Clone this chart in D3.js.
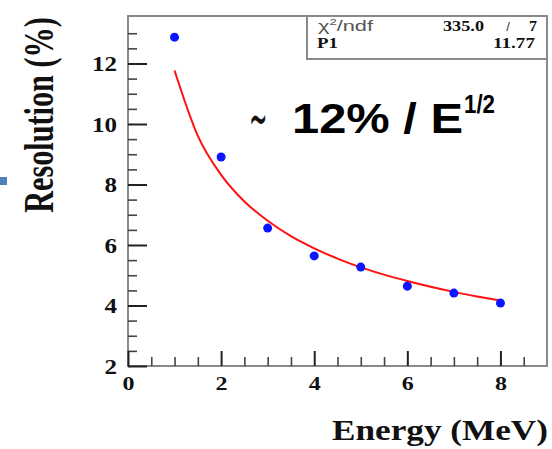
<!DOCTYPE html>
<html>
<head>
<meta charset="utf-8">
<script src="https://cdn.jsdelivr.net/npm/d3@7"></script>
<style>
  body { margin: 0; background: #fff; }
  svg { display: block; }
</style>
</head>
<body>
<div id="chart"></div>
<script>
// measured points (energy in MeV, resolution in %)
const energies = [1, 2, 3, 4, 5, 6, 7, 8];
const resolutions = [12.87, 8.91, 6.56, 5.64, 5.27, 4.64, 4.41, 4.08];

// fit curve
const fitEnergies = [1, 1.5, 2, 2.5, 3, 3.5, 4, 4.5, 5, 5.5, 6, 6.5, 7, 7.5, 8];
const fitValues = [11.77, 9.61, 8.32, 7.44, 6.80, 6.29, 5.89, 5.55, 5.26, 5.02, 4.81, 4.62, 4.45, 4.30, 4.16];

// axis ticks
const xMajorTicks = [0, 2, 4, 6, 8];
const xMinorTicks = [0.5, 1, 1.5, 2.5, 3, 3.5, 4.5, 5, 5.5, 6.5, 7, 7.5, 8.5];
const yMajorTicks = [2, 4, 6, 8, 10, 12];
const yMinorTicks = [2.5, 3, 3.5, 4.5, 5, 5.5, 6.5, 7, 7.5, 8.5, 9, 9.5, 10.5, 11, 11.5, 12.5, 13];

const width = 552, height = 449;
const plot = { left: 128, right: 547, top: 16, bottom: 366 };

const svg = d3.select('#chart').append('svg')
  .attr('width', width).attr('height', height);

const x = d3.scaleLinear().domain([0, 9]).range([plot.left, plot.right]);
const y = d3.scaleLinear().domain([2, 13.57]).range([plot.bottom, plot.top]);

const serif = '"Liberation Serif", "Times New Roman", serif';
const sans = '"Liberation Sans", Arial, sans-serif';

// little blue mark on the left edge
svg.append('rect').attr('x', 0).attr('y', 177).attr('width', 7).attr('height', 8)
  .attr('fill', '#4f81bd');

// frame
svg.append('rect')
  .attr('x', plot.left).attr('y', plot.top)
  .attr('width', plot.right - plot.left).attr('height', plot.bottom - plot.top)
  .attr('fill', 'none').attr('stroke', '#8a8a8a').attr('stroke-width', 2);

// minor ticks
svg.append('g').attr('transform', `translate(${plot.left},0)`)
  .call(d3.axisLeft(y).tickValues(yMinorTicks).tickSize(-9).tickFormat(''))
  .call(g => g.select('.domain').remove())
  .call(g => g.selectAll('line').attr('stroke', '#444').attr('stroke-width', 1.6));
svg.append('g').attr('transform', `translate(0,${plot.bottom})`)
  .call(d3.axisBottom(x).tickValues(xMinorTicks).tickSize(-9).tickFormat(''))
  .call(g => g.select('.domain').remove())
  .call(g => g.selectAll('line').attr('stroke', '#444').attr('stroke-width', 1.6));

// major ticks + labels
const yAxis = svg.append('g').attr('transform', `translate(${plot.left},0)`)
  .call(d3.axisLeft(y).tickValues(yMajorTicks).tickSize(-19).tickPadding(11).tickFormat(d3.format('d')));
yAxis.select('.domain').remove();
yAxis.selectAll('line').attr('stroke', '#222').attr('stroke-width', 2);
yAxis.selectAll('text')
  .attr('font-family', serif).attr('font-weight', 'bold').attr('font-size', 20)
  .attr('fill', '#111').attr('dy', '0.36em')
  .attr('textLength', d => String(d).length * 12.5)
  .attr('lengthAdjust', 'spacingAndGlyphs');

const xAxis = svg.append('g').attr('transform', `translate(0,${plot.bottom})`)
  .call(d3.axisBottom(x).tickValues(xMajorTicks).tickSize(-15).tickPadding(11).tickFormat(d3.format('d')));
xAxis.select('.domain').remove();
xAxis.selectAll('line').attr('stroke', '#222').attr('stroke-width', 2);
xAxis.selectAll('text')
  .attr('font-family', serif).attr('font-weight', 'bold').attr('font-size', 18)
  .attr('fill', '#111')
  .attr('textLength', 12).attr('lengthAdjust', 'spacingAndGlyphs');

// axis titles
svg.append('text')
  .attr('x', 332).attr('y', 440)
  .attr('font-family', serif).attr('font-weight', 'bold').attr('font-size', 30)
  .attr('fill', '#111')
  .attr('textLength', 216).attr('lengthAdjust', 'spacingAndGlyphs')
  .text('Energy (MeV)');

// rotated title, squeezed along its length like the reference
svg.append('text')
  .attr('transform', 'translate(53,115) rotate(-90) scale(0.72,1)')
  .attr('text-anchor', 'middle')
  .attr('font-family', serif).attr('font-weight', 'bold').attr('font-size', 42)
  .attr('fill', '#111')
  .text('Resolution (%)');

// fit curve
const fitData = fitEnergies.map((e, i) => ({ e: e, r: fitValues[i] }));
svg.append('path').datum(fitData)
  .attr('d', d3.line().x(d => x(d.e)).y(d => y(d.r)).curve(d3.curveMonotoneX))
  .attr('fill', 'none').attr('stroke', '#ff1010').attr('stroke-width', 2);

// data points
const points = energies.map((e, i) => ({ e: e, r: resolutions[i] }));
svg.selectAll('.dot').data(points).enter()
  .append('circle').attr('class', 'dot')
  .attr('cx', d => x(d.e)).attr('cy', d => y(d.r)).attr('r', 4.5)
  .attr('fill', '#0a14ff');

// stats box
svg.append('rect')
  .attr('x', 307).attr('y', plot.top).attr('width', plot.right - 307).attr('height', 59 - plot.top)
  .attr('fill', '#fff').attr('stroke', '#8a8a8a').attr('stroke-width', 2);

const chi = svg.append('text').attr('x', 318).attr('y', 31)
  .attr('font-family', sans).attr('font-size', 15).attr('fill', '#555')
  .attr('textLength', 55).attr('lengthAdjust', 'spacingAndGlyphs');
chi.append('tspan').text('χ');
chi.append('tspan').attr('font-size', 9).attr('dy', -6).text('2');
chi.append('tspan').attr('dy', 6).text('/ndf');

svg.append('text').attr('x', 443).attr('y', 31)
  .attr('font-family', serif).attr('font-weight', 'bold').attr('font-size', 14).attr('fill', '#111')
  .attr('textLength', 41).attr('lengthAdjust', 'spacingAndGlyphs')
  .text('335.0');
svg.append('text').attr('x', 508).attr('y', 31).attr('text-anchor', 'middle')
  .attr('font-family', sans).attr('font-size', 13).attr('fill', '#333')
  .text('/');
svg.append('text').attr('x', 537).attr('y', 31).attr('text-anchor', 'end')
  .attr('font-family', serif).attr('font-weight', 'bold').attr('font-size', 14).attr('fill', '#111')
  .attr('textLength', 8).attr('lengthAdjust', 'spacingAndGlyphs')
  .text('7');
svg.append('text').attr('x', 317).attr('y', 48)
  .attr('font-family', serif).attr('font-weight', 'bold').attr('font-size', 14).attr('fill', '#111')
  .attr('textLength', 21).attr('lengthAdjust', 'spacingAndGlyphs')
  .text('P1');
svg.append('text').attr('x', 493).attr('y', 48)
  .attr('font-family', serif).attr('font-weight', 'bold').attr('font-size', 14).attr('fill', '#111')
  .attr('textLength', 42).attr('lengthAdjust', 'spacingAndGlyphs')
  .text('11.77');

// annotation ~ 12% / E^1/2
svg.append('text')
  .attr('transform', 'translate(249,138) scale(0.55,1.45)')
  .attr('font-family', '"DejaVu Sans", sans-serif').attr('font-size', 40).attr('fill', '#111')
  .text('∼');
svg.append('text').attr('x', 292).attr('y', 133)
  .attr('font-family', sans).attr('font-weight', 'bold').attr('font-size', 43).attr('fill', '#000')
  .attr('textLength', 171).attr('lengthAdjust', 'spacingAndGlyphs')
  .text('12% / E');
svg.append('text').attr('x', 464).attr('y', 113)
  .attr('font-family', sans).attr('font-weight', 'bold').attr('font-size', 25).attr('fill', '#000')
  .attr('textLength', 31).attr('lengthAdjust', 'spacingAndGlyphs')
  .text('1/2');
</script>
</body>
</html>
